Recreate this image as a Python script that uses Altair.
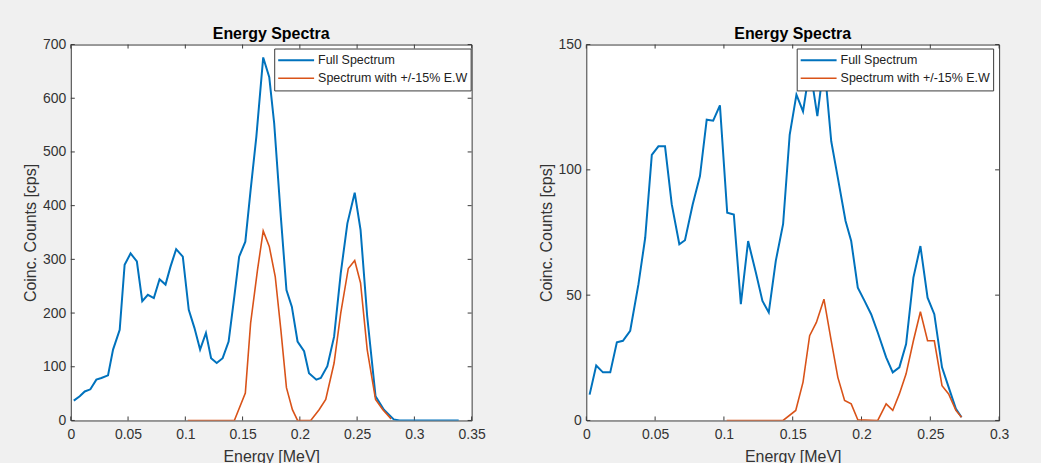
import altair as alt
import pandas as pd

# ---------------- data ----------------
SERIES = ["Full Spectrum", "Spectrum with +/-15% E.W"]

left_full_e = [0.0026, 0.0078, 0.0122, 0.0171, 0.0223, 0.0267, 0.0325, 0.0369, 0.0427, 0.0470,
               0.0522, 0.0577, 0.0624, 0.0673, 0.0725, 0.0775, 0.0827, 0.0870, 0.0920, 0.0978,
               0.1030, 0.1080, 0.1129, 0.1180, 0.1225, 0.1274, 0.1326, 0.1378, 0.1428, 0.1470,
               0.1524, 0.1570, 0.1620, 0.1680, 0.1733, 0.1776, 0.1834, 0.1883, 0.1930, 0.1980,
               0.2037, 0.2080, 0.2144, 0.2183, 0.2240, 0.2299, 0.2357, 0.2415, 0.2479, 0.2530,
               0.2588, 0.2661, 0.2734, 0.2820, 0.2870, 0.3387]
left_full_v = [37, 45, 54, 58, 76, 79, 84, 132, 169, 290,
               311, 296, 222, 234, 228, 263, 253, 286, 319, 305,
               206, 172, 132, 163, 116, 107, 116, 147, 231, 305,
               333, 429, 528, 676, 639, 553, 379, 243, 212, 147,
               129, 88, 76, 79, 101, 156, 274, 367, 424, 355,
               194, 45, 20, 2, 0, 0]

left_win_e = [0.1021, 0.1428, 0.1524, 0.1570, 0.1630, 0.1680, 0.1733, 0.1785, 0.1834, 0.1883,
              0.1935, 0.1980, 0.2095, 0.2168, 0.2226, 0.2299, 0.2357, 0.2423, 0.2479, 0.2530,
              0.2588, 0.2661, 0.2725, 0.2797]
left_win_v = [0, 0, 51, 181, 280, 353, 324, 268, 169, 61,
              20, 0, 0, 20, 39, 107, 200, 283, 298, 256,
              132, 39, 20, 3]

right_full_e = [0.0024, 0.0072, 0.0121, 0.0174, 0.0222, 0.0266, 0.0319, 0.0379, 0.0428, 0.0476,
                0.0524, 0.0572, 0.0621, 0.0676, 0.0717, 0.0773, 0.0826, 0.0875, 0.0922, 0.0971,
                0.1024, 0.1072, 0.1123, 0.1176, 0.1232, 0.1280, 0.1326, 0.1377, 0.1430, 0.1478,
                0.1527, 0.1575, 0.1625, 0.1679, 0.1728, 0.1780, 0.1828, 0.1884, 0.1925, 0.1973,
                0.2022, 0.2070, 0.2118, 0.2179, 0.2227, 0.2275, 0.2324, 0.2377, 0.2428, 0.2480,
                0.2529, 0.2585, 0.2633, 0.2686, 0.2727]
right_full_v = [10.3, 21.9, 19.2, 19.2, 31.2, 31.8, 35.8, 54.4, 72.9, 106.0,
                109.4, 109.4, 86.2, 70.3, 71.9, 86.2, 97.5, 120.0, 119.6, 125.7,
                82.9, 82.2, 46.4, 71.6, 59.0, 47.7, 43.1, 63.7, 78.3, 114.0,
                130.0, 123.3, 141.0, 121.4, 143.0, 111.4, 96.8, 79.6, 71.6, 53.0,
                47.7, 42.4, 35.1, 25.2, 19.2, 21.2, 30.5, 57.0, 69.6, 49.0,
                42.4, 21.2, 13.3, 4.6, 1.3]

right_win_e = [0.1020, 0.1430, 0.1522, 0.1575, 0.1623, 0.1672, 0.1727, 0.1780, 0.1828, 0.1877,
               0.1925, 0.1973, 0.2118, 0.2179, 0.2227, 0.2275, 0.2324, 0.2377, 0.2428, 0.2480,
               0.2529, 0.2585, 0.2633, 0.2686, 0.2727]
right_win_v = [0, 0, 4.0, 15.3, 33.8, 39.1, 48.4, 31.8, 17.2, 8.0,
               6.6, 0.3, 0, 6.6, 4.0, 10.6, 18.6, 31.8, 43.4, 31.8,
               31.8, 13.9, 10.6, 4.0, 1.3]

left_xticks = [0, 0.05, 0.1, 0.15, 0.2, 0.25, 0.3, 0.35]
left_yticks = [0, 100, 200, 300, 400, 500, 600, 700]
right_xticks = [0, 0.05, 0.1, 0.15, 0.2, 0.25, 0.3]
right_yticks = [0, 50, 100, 150]

# ---------------- styling ----------------
FONT = "Liberation Sans"
AXC = "#3a3a3a"
TXT = "#333333"
BLUE = "#0072BD"
ORANGE = "#D95319"
TICK = 4


def panel(fe, fv, we, wv, xticks, yticks, w, h, leg_x, leg_y):
    df = pd.concat([
        pd.DataFrame({"energy": fe, "count": fv, "series": SERIES[0], "order": range(len(fe))}),
        pd.DataFrame({"energy": we, "count": wv, "series": SERIES[1], "order": range(len(we))}),
    ])
    xscale = alt.Scale(domain=[xticks[0], xticks[-1]], nice=False, zero=False)
    yscale = alt.Scale(domain=[yticks[0], yticks[-1]], nice=False, zero=False)
    xaxis = alt.Axis(values=xticks, title="Energy [MeV]", labelFlush=False,
                     labelExpr="format(datum.value, '~g')")
    yaxis = alt.Axis(values=yticks, title="Coinc. Counts [cps]")

    lines = alt.Chart(df).mark_line(clip=True).encode(
        x=alt.X("energy:Q", scale=xscale, axis=xaxis),
        y=alt.Y("count:Q", scale=yscale, axis=yaxis),
        order="order:Q",
        color=alt.Color(
            "series:N",
            scale=alt.Scale(domain=SERIES, range=[BLUE, ORANGE]),
            legend=alt.Legend(title=None, orient="none", legendX=leg_x, legendY=leg_y),
        ),
        strokeWidth=alt.StrokeWidth(
            "series:N",
            scale=alt.Scale(domain=SERIES, range=[2.0, 1.6]),
            legend=alt.Legend(title=None, orient="none", legendX=leg_x, legendY=leg_y),
        ),
    )

    xt = pd.DataFrame({"energy": xticks})
    yt = pd.DataFrame({"count": yticks})
    bx = alt.Chart(xt).mark_rule(color=AXC, strokeWidth=1).encode(
        x=alt.X("energy:Q", scale=xscale, axis=xaxis), y=alt.value(h), y2=alt.value(h - TICK))
    tx = alt.Chart(xt).mark_rule(color=AXC, strokeWidth=1).encode(
        x=alt.X("energy:Q", scale=xscale, axis=xaxis), y=alt.value(0), y2=alt.value(TICK))
    ly = alt.Chart(yt).mark_rule(color=AXC, strokeWidth=1).encode(
        y=alt.Y("count:Q", scale=yscale, axis=yaxis), x=alt.value(0), x2=alt.value(TICK))
    ry = alt.Chart(yt).mark_rule(color=AXC, strokeWidth=1).encode(
        y=alt.Y("count:Q", scale=yscale, axis=yaxis), x=alt.value(w - TICK), x2=alt.value(w))

    return alt.layer(bx, tx, ly, ry, lines).properties(
        width=w, height=h,
        title=alt.TitleParams("Energy Spectra", font=FONT, fontSize=16, fontWeight="bold",
                              color="#000000", offset=-4),
    )


left = panel(left_full_e, left_full_v, left_win_e, left_win_v,
             left_xticks, left_yticks, 402, 377, 204, 4)
right = panel(right_full_e, right_full_v, right_win_e, right_win_v,
              right_xticks, right_yticks, 414, 377, 211, 4)

chart = alt.hconcat(left, right, spacing=51).resolve_scale(
    x="independent", y="independent", color="independent", strokeWidth="independent"
).resolve_legend(color="independent", strokeWidth="independent").properties(
    padding={"left": 22, "top": 24, "right": 31, "bottom": 0},
    background="#f0f0f0",
).configure_view(
    fill="#ffffff", stroke=AXC, strokeWidth=1,
).configure_axis(
    domain=False, ticks=False, grid=False,
    labelFont=FONT, labelFontSize=14, labelColor=TXT,
    titleFont=FONT, titleFontSize=16, titleFontWeight="normal", titleColor=TXT,
).configure_axisX(
    labelPadding=7, titlePadding=7,
).configure_axisY(
    labelPadding=5, titlePadding=4,
).configure_legend(
    fillColor="#ffffff", strokeColor=AXC, padding=3,
    symbolType="stroke", symbolSize=1296, clipHeight=17.5, rowPadding=0,
    labelFont=FONT, labelFontSize=12.5, labelColor="#222222", labelOffset=3,
)

chart.save("out.html", embed_options={"renderer": "svg", "actions": False})
